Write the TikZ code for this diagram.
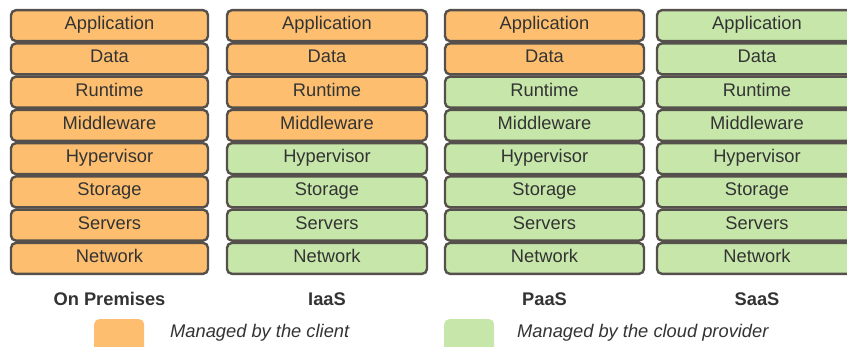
\documentclass[tikz,border=0pt]{standalone}
\usepackage{fontspec}
\setmainfont{Liberation Sans}
\definecolor{clientc}{HTML}{FDBF6F}
\definecolor{cloudc}{HTML}{C6E7A9}
\definecolor{edgec}{HTML}{55504B}
\definecolor{txtc}{HTML}{333333}
\begin{document}
\begin{tikzpicture}[x=1pt,y=-1pt,
  layer/.style={draw=edgec, line width=2.4pt, rounded corners=5pt, minimum height=31pt,
    inner sep=0pt, text height=13pt, text depth=5pt, text=txtc,
    font=\fontsize{18.3}{21}\selectfont, anchor=center},
  client/.style={layer, fill=clientc},
  cloud/.style={layer, fill=cloudc},
  coltitle/.style={font=\fontsize{18.3}{21}\selectfont\bfseries, text=txtc},
  legtext/.style={font=\fontsize{18.3}{21}\selectfont\itshape, text=txtc, anchor=west, inner sep=0pt},
  legbox/.style={rounded corners=5pt, minimum width=50pt, minimum height=40pt, inner sep=0pt, anchor=north west}
]
\useasboundingbox (0,0) rectangle (847,346);
\begin{scope}
\clip (0,0) rectangle (847,346);
\foreach \lab [count=\r] in {Application,Data,Runtime,Middleware,Hypervisor,Storage,Servers,Network}{
  \pgfmathsetmacro{\yc}{9+33.25*(\r-0.5)}
  % column 1: On Premises
  \node[client, minimum width=197pt] (a\r) at (109.5,\yc) {\lab};
  % column 2: IaaS
  \ifnum\r<5
    \node[client, minimum width=200pt] (b\r) at (327,\yc) {\lab};
  \else
    \node[cloud, minimum width=200pt] (b\r) at (327,\yc) {\lab};
  \fi
  % column 3: PaaS
  \ifnum\r<3
    \node[client, minimum width=199pt] (c\r) at (544.5,\yc) {\lab};
  \else
    \node[cloud, minimum width=199pt] (c\r) at (544.5,\yc) {\lab};
  \fi
  % column 4: SaaS
  \node[cloud, minimum width=200pt] (d\r) at (757,\yc) {\lab};
}
\node[legbox, fill=clientc] (lc) at (94,319) {};
\node[legbox, fill=cloudc] (lp) at (444,319) {};
\end{scope}
\node[coltitle] (t1) at (109.5,299) {On Premises};
\node[coltitle] (t2) at (327,299) {IaaS};
\node[coltitle] (t3) at (544.5,299) {PaaS};
\node[coltitle] (t4) at (757,299) {SaaS};
\node[legtext] (lct) at (170,333) {Managed by the client};
\node[legtext] (lpt) at (517,333) {Managed by the cloud provider};
\end{tikzpicture}
\end{document}
